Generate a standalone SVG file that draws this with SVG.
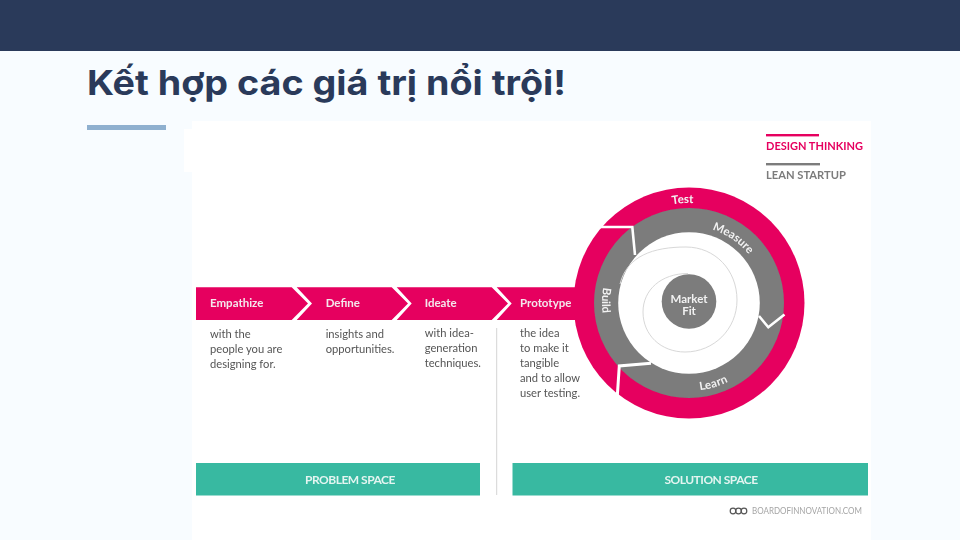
<svg xmlns="http://www.w3.org/2000/svg" width="960" height="540" viewBox="0 0 960 540">
<style>
.l{font-family:"Lato","Liberation Sans",sans-serif}
.hd{font-size:11.5px;font-weight:700;fill:#f4e6ec}
.bd{font-size:11.2px;fill:#555}
.rl{font-size:11.5px;font-weight:700;fill:#f2f2f2}
.gap{fill:none;stroke:#fff;stroke-width:2.6}
.sp{font-size:12px;font-weight:700;fill:#e4f5f1;text-anchor:middle;letter-spacing:-.5px}
.pink{fill:#e6025f}
.grey{fill:#7b7b7b}
.team{fill:#38b9a1}
</style>
<defs>
<filter id="soft" x="-5%" y="-5%" width="110%" height="110%"><feGaussianBlur stdDeviation="0.6"/></filter>
<path id="pTest" d="M589,303A100,100 0 0 1 789,303"/>
<path id="pMeasure" d="M612,303A77,77 0 0 1 766,303"/>
<path id="pLearn" d="M601,303A88,88 0 0 0 777,303"/>
<path id="pBuild" d="M689,216A87,87 0 0 0 689,390"/>
</defs>
<rect width="960" height="540" fill="#f8fcff"/>
<g id="header"><rect width="960" height="51" fill="#2a3a5a"/></g>
<g id="title">
<text x="87" y="95" font-family="Inter,'Noto Sans',sans-serif" font-size="34" font-weight="700" fill="#2a3a5a" textLength="479" lengthAdjust="spacingAndGlyphs">Kết hợp các giá trị nổi trội!</text>
<rect x="87" y="125" width="79" height="5" fill="#8fb0cf"/>
</g>
<g id="canvas"><path d="M192,121H871V540H192V172H184V129H192Z" fill="#fff"/></g>
<g filter="url(#soft)">
<g id="legend" class="l">
<rect x="766" y="134" width="53" height="2.4" class="pink"/>
<text x="766" y="149.5" font-size="12" font-weight="700" fill="#e6025f" textLength="97" lengthAdjust="spacingAndGlyphs">DESIGN THINKING</text>
<rect x="766" y="163" width="54" height="2.4" class="grey"/>
<text x="766" y="179" font-size="12" font-weight="700" fill="#7b7b7b" textLength="80" lengthAdjust="spacingAndGlyphs">LEAN STARTUP</text>
</g>
<g id="empathize" class="l">
<polygon class="pink" points="196,287.3 291.7,287.3 308,303.6 291.7,320 196,320"/>
<text x="210" y="307" class="hd">Empathize</text>
<text class="bd" x="210" y="337.5">with the</text>
<text class="bd" x="210" y="352.5">people you are</text>
<text class="bd" x="210" y="367.5">designing for.</text>
</g>
<g id="define" class="l">
<polygon class="pink" points="296.7,287.3 391.7,287.3 408,303.6 391.7,320 296.7,320 312,303.6"/>
<text x="325.7" y="307" class="hd">Define</text>
<text class="bd" x="325.7" y="337.5">insights and</text>
<text class="bd" x="325.7" y="352.5">opportunities.</text>
</g>
<g id="ideate" class="l">
<polygon class="pink" points="396.7,287.3 491.7,287.3 508,303.6 491.7,320 396.7,320 411.7,303.6"/>
<text x="424.7" y="307" class="hd">Ideate</text>
<text class="bd" x="424.7" y="337">with idea-</text>
<text class="bd" x="424.7" y="352">generation</text>
<text class="bd" x="424.7" y="367">techniques.</text>
</g>
<g id="prototype" class="l">
<polygon class="pink" points="496.7,287.3 580,287.3 580,320 496.7,320 511.7,303.6"/>
<text x="520" y="307" class="hd">Prototype</text>
<text class="bd" x="520" y="337">the idea</text>
<text class="bd" x="520" y="352">to make it</text>
<text class="bd" x="520" y="367">tangible</text>
<text class="bd" x="520" y="382">and to allow</text>
<text class="bd" x="520" y="397">user testing.</text>
</g>
<g id="divider"><rect x="496.2" y="328" width="1" height="167" fill="#d4d4d4"/></g>
<g id="cycle" class="l">
<circle cx="689" cy="303" r="115.5" class="pink"/>
<circle cx="689" cy="303" r="95" class="grey"/>
<circle cx="689" cy="303" r="70.8" fill="#fff"/>
<path d="M620,284C627,256 653,247 686,247C715,247 737,270 737,300C737,329 714,352 685,352C661,352 643,335 643,312C643,290 661,273.5 688,273.5" fill="none" stroke="#d8d8d8" stroke-width="1"/>
<circle cx="689" cy="301.5" r="27.3" class="grey"/>
<text text-anchor="middle" x="689" y="302.5" class="rl">Market</text>
<text text-anchor="middle" x="689" y="314.5" class="rl">Fit</text>
<text class="rl" text-anchor="middle"><textPath href="#pTest" startOffset="48%">Test</textPath></text>
<text class="rl" text-anchor="middle"><textPath href="#pMeasure" startOffset="69%">Measure</textPath></text>
<text class="rl" text-anchor="middle" letter-spacing=".3"><textPath href="#pLearn" startOffset="59.4%">Learn</textPath></text>
<text class="rl" text-anchor="middle"><textPath href="#pBuild" startOffset="49%">Build</textPath></text>
</g>
<g id="connectors">
<polyline class="gap" points="600,227 632.3,227 635,255"/>
<polyline class="gap" points="759,316 768.3,327.3 784.5,314.5"/>
<polyline class="gap" stroke-width="3" style="stroke-width:3" points="651,363.3 619.3,366 617.3,396"/>
</g>
<g id="problem-space" class="l">
<rect x="196" y="463" width="284" height="32.5" class="team"/>
<text x="350" y="484" class="sp">PROBLEM SPACE</text>
</g>
<g id="solution-space" class="l">
<rect x="512.5" y="463" width="355.5" height="32.5" class="team"/>
<text x="711" y="484" class="sp">SOLUTION SPACE</text>
</g>
<g id="credit" class="l">
<g fill="none" stroke="#555" stroke-width="1.2"><circle cx="733" cy="511" r="2.8"/><circle cx="738.5" cy="511" r="2.8"/><circle cx="744" cy="511" r="2.8"/></g>
<text x="752" y="514" font-size="8.5" fill="#a5a5a5" textLength="110" lengthAdjust="spacingAndGlyphs">BOARDOFINNOVATION.COM</text>
</g>
</g>
</svg>
